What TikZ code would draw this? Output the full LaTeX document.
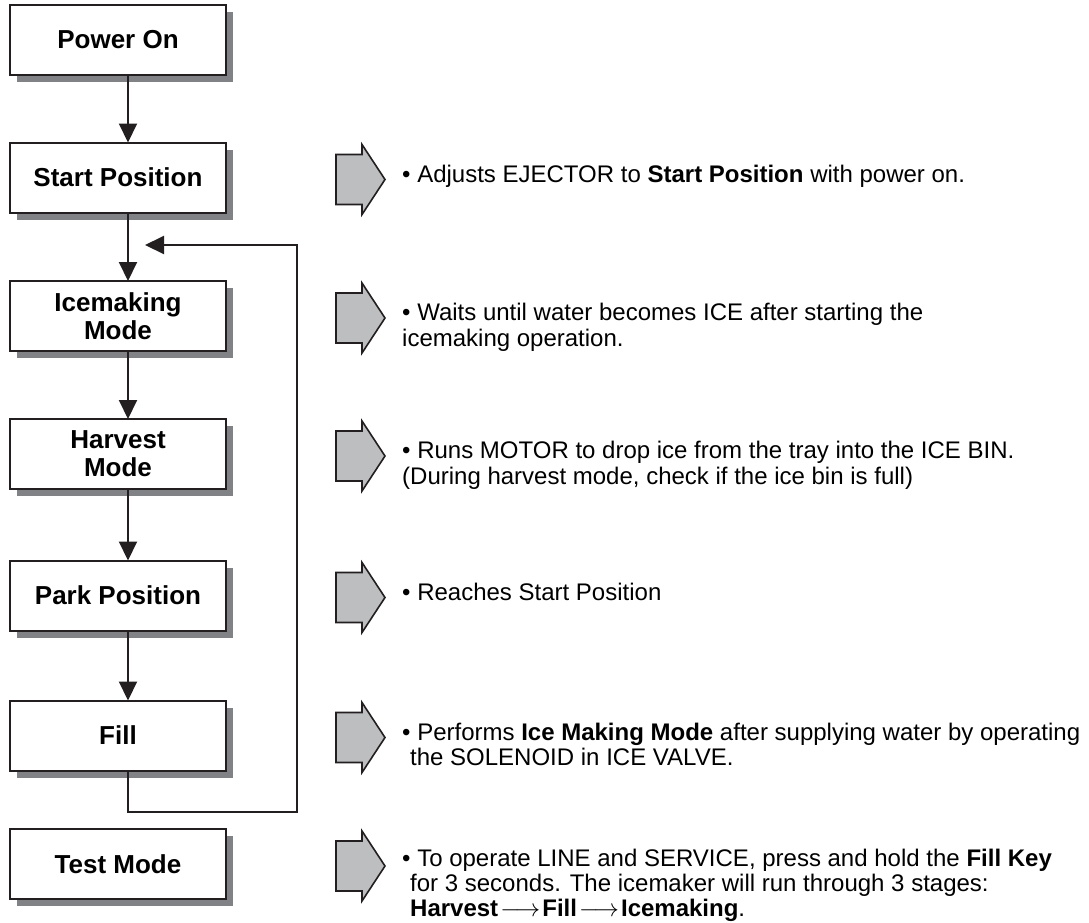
\documentclass[tikz,border=0pt]{standalone}
\usepackage{fontspec}
\setmainfont{Liberation Sans}
\usetikzlibrary{arrows.meta,calc,positioning,shadows}

\definecolor{ink}{HTML}{231F20}
\definecolor{shadowgray}{HTML}{808285}
\definecolor{arrowgray}{HTML}{BCBEC0}

\tikzset{
  stepbox/.style={draw=ink, line width=2pt, fill=white, minimum width=216pt,
    minimum height=70pt, inner sep=0pt, outer sep=0pt, align=center,
    font=\bfseries\fontsize{26}{28}\selectfont,
    drop shadow={shadow xshift=7pt, shadow yshift=-7pt, fill=shadowgray, opacity=1}},
  flow/.style={draw=ink, line width=2pt, -{Triangle[width=18pt,length=19pt]}},
  desc/.style={anchor=north west, inner sep=0pt, align=left,
    font=\fontsize{24}{24.5}\selectfont},
  garrow/.pic={
    \draw[draw=ink, line width=1.6pt, fill=arrowgray, line join=miter]
      (0,-25) -- (26,-25) -- (26,-35) -- (49,0) -- (26,35) -- (26,25) -- (0,25) -- cycle;
  }
}

\begin{document}
\begin{tikzpicture}[x=1pt,y=-1pt]
  \useasboundingbox (0,0) rectangle (1089,922);
  % mode boxes down the left side
  \foreach \name/\y/\txt in {pwr/40/Power On, start/177.5/Start Position,
      ice/316/{Icemaking\\Mode}, harv/454/{Harvest\\Mode},
      park/595.5/Park Position, fill/735.5/Fill, test/864/Test Mode} {
    \node[stepbox] (\name) at (118,\y) {\txt};
  }
  \coordinate (spine) at (128,0);

  % flow between the modes
  \draw[flow] (pwr.south -| spine) -- (start.north -| spine);
  \draw[flow] (start.south -| spine) -- (ice.north -| spine);
  \draw[flow] (ice.south -| spine) -- (harv.north -| spine);
  \draw[flow] (harv.south -| spine) -- (park.north -| spine);
  \draw[flow] (park.south -| spine) -- (fill.north -| spine);

  % return loop from Fill back to Icemaking
  \coordinate (loopR) at (297,812);
  \coordinate (back) at (145,245);
  \draw[flow] (fill.south -| spine) |- (loopR) |- (back);

  % gray pointers
  \foreach \n in {start,ice,harv,park,fill,test}
    \pic at ($(\n.east)+(110,2)$) {garrow};

  % descriptions
  \node[desc] (dstart) at ($(start.east)+(176,-13)$)
    {\strut• Adjusts EJECTOR to \textbf{Start Position} with power on.};
  \node[desc] (dice) at ($(ice.east)+(176,-13)$)
    {\strut• Waits until water becomes ICE after starting the\\
     icemaking operation.};
  \node[desc] (dharv) at ($(harv.east)+(176,-13)$)
    {\strut• Runs MOTOR to drop ice from the tray into the ICE BIN.\\
     (During harvest mode, check if the ice bin is full)};
  \node[desc] (dpark) at ($(park.east)+(176,-13)$)
    {\strut• Reaches Start Position};
  \node[desc] (dfill) at ($(fill.east)+(176,-13)$)
    {\strut• Performs \textbf{Ice Making Mode} after supplying water by operating\\
     \hspace{8pt}the SOLENOID in ICE VALVE.};
  \node[desc] (dtest) at ($(test.east)+(176,-15.5)$)
    {\strut• To operate LINE and SERVICE, press and hold the \textbf{Fill Key}\\
     \hspace{8pt}for 3 seconds. The icemaker will run through 3 stages:\\
     \hspace{8pt}\textbf{Harvest}\hspace{2pt}$\longrightarrow$\hspace{2pt}\textbf{Fill}\hspace{2pt}$\longrightarrow$\hspace{2pt}\textbf{Icemaking}.};
\end{tikzpicture}
\end{document}
